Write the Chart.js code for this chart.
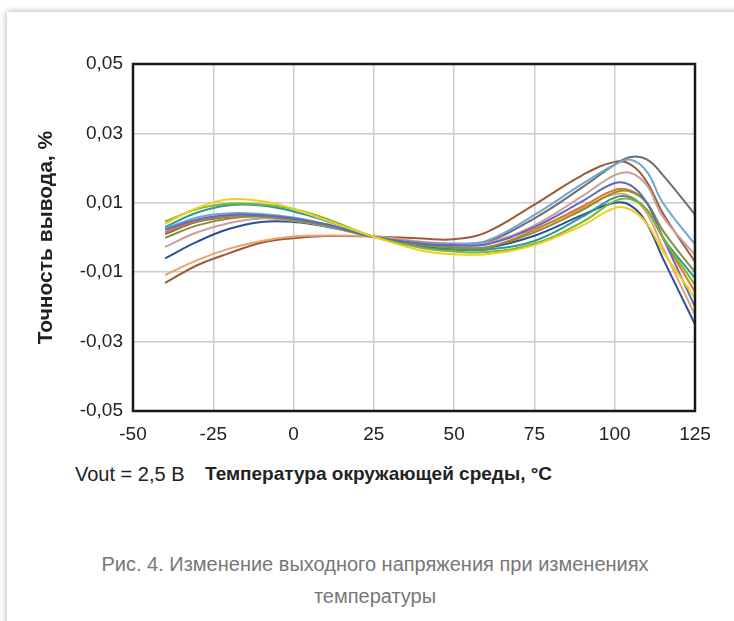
<!DOCTYPE html>
<html>
<head>
<meta charset="utf-8">
<title>Точность вывода</title>
<script src="https://cdn.jsdelivr.net/npm/chart.js@4.4.1/dist/chart.umd.min.js"></script>
<style>
  html, body { margin: 0; padding: 0; background: #fff; }
  body { width: 734px; height: 621px; position: relative; overflow: hidden; font-family: "Liberation Sans", Arial, sans-serif; }
  .card { position: absolute; left: 7px; top: 12px; width: 800px; height: 700px; background: #fff; box-shadow: 0 0 7px rgba(0,0,0,0.35); }
  #wrap { position: absolute; left: 0; top: 0; width: 734px; height: 450px; }
  .vout { position: absolute; left: 75px; top: 463px; font-size: 20px; color: #222; }
  .xtitle { position: absolute; left: 205px; top: 463px; font-size: 19px; font-weight: bold; color: #222; }
  .caption { position: absolute; left: 0; width: 750px; top: 548px; text-align: center; font-size: 20px; line-height: 32px; color: #777; }
</style>
</head>
<body>
<div class="card"></div>
<div id="wrap"><canvas id="tempChart"></canvas></div>
<div class="vout">Vout = 2,5 В</div>
<div class="xtitle">Температура окружающей среды, °C</div>
<div class="caption">Рис. 4. Изменение выходного напряжения при изменениях<br>температуры</div>
<script>
// температура, °C
const temps = [-40, -30, -20, -10, 0, 10, 25, 40, 50, 60, 75, 90, 100, 105, 110, 115, 125];
const xTicks = [-50, -25, 0, 25, 50, 75, 100, 125];
const yTicks = [-0.05, -0.03, -0.01, 0.01, 0.03, 0.05];

// точность вывода, % (по кривым с графика)
const yellow = [0.004, 0.0085, 0.011, 0.0105, 0.0083, 0.005, 0.0002, -0.0038, -0.0048, -0.0048, -0.0022, 0.0035, 0.0085, 0.008, 0.004, -0.004, -0.0174];
const green = [0.0046, 0.0082, 0.0097, 0.0095, 0.0082, 0.0055, 0.0002, -0.003, -0.004, -0.0042, -0.0018, 0.0045, 0.0105, 0.011, 0.008, 0.0, -0.0137];
const teal = [0.003, 0.0072, 0.0093, 0.0092, 0.0075, 0.0048, 0.0002, -0.0028, -0.0035, -0.0035, -0.001, 0.006, 0.0115, 0.0115, 0.008, 0.0, -0.0117];
const bluePurple = [0.0022, 0.0052, 0.0065, 0.0064, 0.0055, 0.0038, 0.0002, -0.0018, -0.0022, -0.002, 0.003, 0.0105, 0.0157, 0.015, 0.01, 0.0, -0.02];
const gray = [0.001, 0.0045, 0.006, 0.0062, 0.0055, 0.0038, 0.0002, -0.0015, -0.0018, -0.0012, 0.0055, 0.0145, 0.021, 0.0232, 0.0225, 0.018, 0.0066];
const olive = [-0.0001, 0.0035, 0.0055, 0.006, 0.005, 0.0035, 0.0002, -0.002, -0.0028, -0.0028, 0.0015, 0.008, 0.013, 0.0132, 0.01, 0.002, -0.01];
const pink = [-0.0027, 0.0015, 0.0042, 0.0055, 0.0048, 0.0033, 0.0002, -0.0018, -0.0022, -0.0018, 0.0035, 0.012, 0.018, 0.0186, 0.015, 0.006, -0.005];
const darkBlue = [-0.006, -0.0012, 0.0025, 0.0045, 0.0045, 0.0032, 0.0002, -0.0025, -0.0032, -0.003, 0.0005, 0.0065, 0.01, 0.0092, 0.004, -0.006, -0.025];
const lightOrange = [-0.0108, -0.0065, -0.0032, -0.001, 0.0003, 0.0006, 0.0003, -0.0012, -0.0018, -0.0012, 0.0025, 0.0085, 0.0125, 0.0118, 0.007, -0.003, -0.0223];
const brown = [-0.0131, -0.008, -0.0045, -0.0015, -0.0002, 0.0004, 0.0003, -0.0003, -0.0005, 0.0015, 0.0095, 0.018, 0.0218, 0.021, 0.016, 0.007, -0.007];
const lightBlue = [0.0025, 0.0058, 0.007, 0.0068, 0.0058, 0.0038, 0.0002, -0.0015, -0.0018, -0.001, 0.0065, 0.0155, 0.021, 0.0224, 0.019, 0.01, -0.002];
const orange = [0.0015, 0.0048, 0.0062, 0.006, 0.0052, 0.0035, 0.0002, -0.0022, -0.003, -0.003, 0.0022, 0.009, 0.0137, 0.0135, 0.01, 0.0, -0.0157];

const series = [
    { vals: yellow, color: '#f2cf1c' },
    { vals: green, color: '#7db630' },
    { vals: teal, color: '#2e9a96' },
    { vals: bluePurple, color: '#5b6bbf' },
    { vals: olive, color: '#8c8f3a' },
    { vals: orange, color: '#de7a24' },
    { vals: pink, color: '#c9a09a' },
    { vals: lightBlue, color: '#6fa6d4' },
    { vals: gray, color: '#6e6e6e' },
    { vals: darkBlue, color: '#2d4f9a' },
    { vals: lightOrange, color: '#eaa26c' },
    { vals: brown, color: '#9a5a3c' }
];

// рамка вокруг области графика
const frame = {
    id: 'frame',
    afterDatasetsDraw(chart) {
        const a = chart.chartArea;
        const ctx = chart.ctx;
        ctx.save();
        ctx.strokeStyle = '#1a1a1a';
        ctx.lineWidth = 2.5;
        ctx.strokeRect(a.left, a.top, a.right - a.left, a.bottom - a.top);
        ctx.restore();
    }
};

const fontTicks = { family: '"Liberation Sans", Arial, sans-serif', size: 19 };

new Chart(document.getElementById('tempChart'), {
    type: 'line',
    data: {
        datasets: series.map(s => ({
            data: temps.map((t, i) => ({ x: t, y: s.vals[i] })),
            borderColor: s.color,
            borderWidth: 2,
            pointRadius: 0,
            fill: false,
            tension: 0.4
        }))
    },
    options: {
        responsive: true,
        maintainAspectRatio: false,
        animation: false,
        layout: { padding: { left: 34, right: 39, top: 64, bottom: 0 } },
        plugins: { legend: { display: false }, tooltip: { enabled: false } },
        scales: {
            x: {
                type: 'linear',
                min: -50,
                max: 125,
                afterBuildTicks: scale => { scale.ticks = xTicks.map(v => ({ value: v })); },
                afterFit: scale => { scale.height = 39; },
                grid: { color: '#cccccc', lineWidth: 1.5, drawTicks: false },
                border: { display: false },
                ticks: { color: '#222', font: fontTicks, padding: 12, maxRotation: 0, autoSkip: false }
            },
            y: {
                min: -0.05,
                max: 0.05,
                afterBuildTicks: scale => { scale.ticks = yTicks.map(v => ({ value: v })); },
                afterFit: scale => { scale.width = 99; },
                grid: { color: '#cccccc', lineWidth: 1.5, drawTicks: false },
                border: { display: false },
                ticks: {
                    color: '#222',
                    font: fontTicks,
                    padding: 10,
                    callback: v => v.toFixed(2).replace('.', ',')
                },
                title: {
                    display: true,
                    text: 'Точность вывода, %',
                    color: '#222',
                    font: { family: '"Liberation Sans", Arial, sans-serif', size: 21, weight: 'bold' },
                    padding: { top: 0, bottom: 10 }
                }
            }
        }
    },
    plugins: [frame]
});
</script>
</body>
</html>
